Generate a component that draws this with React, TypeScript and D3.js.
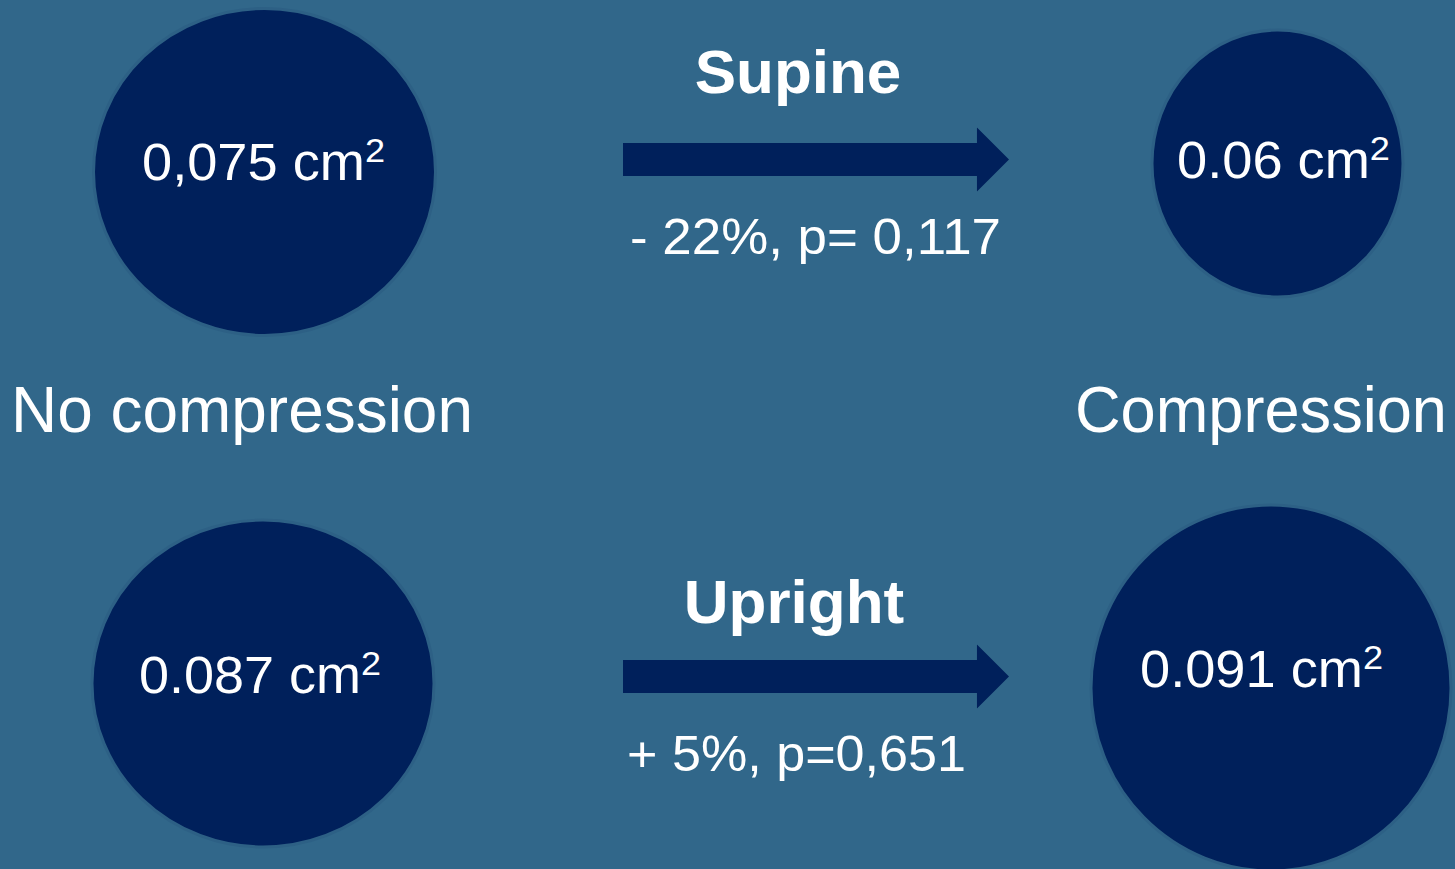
import * as React from 'react';
import * as d3 from 'd3';

// the two postures and the two states being compared
const postures = ['Supine', 'Upright'];
const states = ['No compression', 'Compression'];

// cross-sectional area, written the way the slide prints it
const areaNoCompression = ['0,075', '0.087'];
const areaCompression = ['0.06', '0.091'];
const areaUnit = 'cm';

// change between states and its p-value
const changes = ['- 22%', '+ 5%'];
const pValues = ['p= 0,117', 'p=0,651'];

const W = 1455;
const H = 869;
const BG = '#31678a';
const NAVY = '#00205b';
const FONT = '"Liberation Sans", Arial, Helvetica, sans-serif';

// circle placement per posture: [no compression, compression]
const circleLayout = [
    [
        { cx: 264.5, cy: 172, rx: 171, ry: 163.5, tx: 142, ty: 180, tw: 243 },
        { cx: 1277.5, cy: 163.5, rx: 125.5, ry: 133.5, tx: 1177, ty: 178, tw: 213 },
    ],
    [
        { cx: 263, cy: 683.5, rx: 171, ry: 163.5, tx: 139, ty: 693, tw: 242 },
        { cx: 1271, cy: 688, rx: 180, ry: 183, tx: 1140, ty: 687, tw: 243 },
    ],
];

const App: React.FC = () => {
    const ref = React.useRef<SVGSVGElement>(null);

    React.useEffect(() => {
        const svg = d3.select(ref.current);
        svg.selectAll('*').remove();

        svg.append('rect')
            .attr('width', W)
            .attr('height', H)
            .attr('fill', BG);

        // rows of the slide
        const arrowY = d3.scaleOrdinal<string, number>().domain(postures).range([159.5, 676.5]);
        const titleY = d3.scaleOrdinal<string, number>().domain(postures).range([93, 623]);
        const titleX = d3.scaleOrdinal<string, number>().domain(postures).range([798, 794]);
        const statX = d3.scaleOrdinal<string, number>().domain(postures).range([630, 627]);
        const statY = d3.scaleOrdinal<string, number>().domain(postures).range([254, 771]);
        const statW = d3.scaleOrdinal<string, number>().domain(postures).range([371, 339]);
        const arrowX = d3.scaleLinear().domain([0, 1]).range([623, 1009]);

        const rows = postures.map((p, i) => ({
            posture: p,
            before: areaNoCompression[i],
            after: areaCompression[i],
            change: changes[i],
            p: pValues[i],
            layout: circleLayout[i],
        }));

        const circles = rows.flatMap(r => [
            { label: r.before, ...r.layout[0] },
            { label: r.after, ...r.layout[1] },
        ]);

        const g = svg.append('g');

        g.selectAll('ellipse.area')
            .data(circles)
            .enter()
            .append('ellipse')
            .attr('class', 'area')
            .attr('cx', d => d.cx)
            .attr('cy', d => d.cy)
            .attr('rx', d => d.rx)
            .attr('ry', d => d.ry)
            .attr('fill', NAVY)
            .attr('stroke', '#2d6085')
            .attr('stroke-width', 3);

        const labels = g.selectAll('text.area')
            .data(circles)
            .enter()
            .append('text')
            .attr('class', 'area')
            .attr('x', d => d.tx)
            .attr('y', d => d.ty)
            .attr('fill', '#fff')
            .attr('font-family', FONT)
            .attr('font-size', 51)
            .attr('textLength', d => d.tw)
            .attr('lengthAdjust', 'spacingAndGlyphs');
        labels.append('tspan').text(d => d.label + ' ' + areaUnit);
        labels.append('tspan')
            .attr('font-size', 34)
            .attr('dy', -18)
            .text('2');

        // arrows between the states
        const arrowPath = (y: number) => {
            const path = d3.path();
            const shaft = 16.5;
            const head = 32;
            const neck = arrowX(0.917);
            path.moveTo(arrowX(0), y - shaft);
            path.lineTo(neck, y - shaft);
            path.lineTo(neck, y - head);
            path.lineTo(arrowX(1), y);
            path.lineTo(neck, y + head);
            path.lineTo(neck, y + shaft);
            path.lineTo(arrowX(0), y + shaft);
            path.closePath();
            return path.toString();
        };

        g.selectAll('path.arrow')
            .data(rows)
            .enter()
            .append('path')
            .attr('class', 'arrow')
            .attr('d', d => arrowPath(arrowY(d.posture)))
            .attr('fill', NAVY);

        g.selectAll('text.title')
            .data(rows)
            .enter()
            .append('text')
            .attr('class', 'title')
            .attr('x', d => titleX(d.posture))
            .attr('y', d => titleY(d.posture))
            .attr('text-anchor', 'middle')
            .attr('fill', '#fff')
            .attr('font-family', FONT)
            .attr('font-weight', 'bold')
            .attr('font-size', 62)
            .text(d => d.posture);

        g.selectAll('text.stat')
            .data(rows)
            .enter()
            .append('text')
            .attr('class', 'stat')
            .attr('x', d => statX(d.posture))
            .attr('y', d => statY(d.posture))
            .attr('fill', '#fff')
            .attr('font-family', FONT)
            .attr('font-size', 50)
            .attr('textLength', d => statW(d.posture))
            .attr('lengthAdjust', 'spacingAndGlyphs')
            .text(d => d.change + ', ' + d.p);

        // state captions in the middle band
        const stateX = d3.scaleOrdinal<string, number>().domain(states).range([11, 1075]);
        const stateW = d3.scaleOrdinal<string, number>().domain(states).range([462, 372]);
        g.selectAll('text.state')
            .data(states)
            .enter()
            .append('text')
            .attr('class', 'state')
            .attr('x', d => stateX(d))
            .attr('y', 432)
            .attr('fill', '#fff')
            .attr('font-family', FONT)
            .attr('font-size', 65)
            .attr('textLength', d => stateW(d))
            .attr('lengthAdjust', 'spacingAndGlyphs')
            .text(d => d);
    }, []);

    return (
        <svg
            ref={ref}
            width={W}
            height={H}
            style={{ position: 'fixed', left: 0, top: 0, display: 'block' }}
        />
    );
};

export default App;
